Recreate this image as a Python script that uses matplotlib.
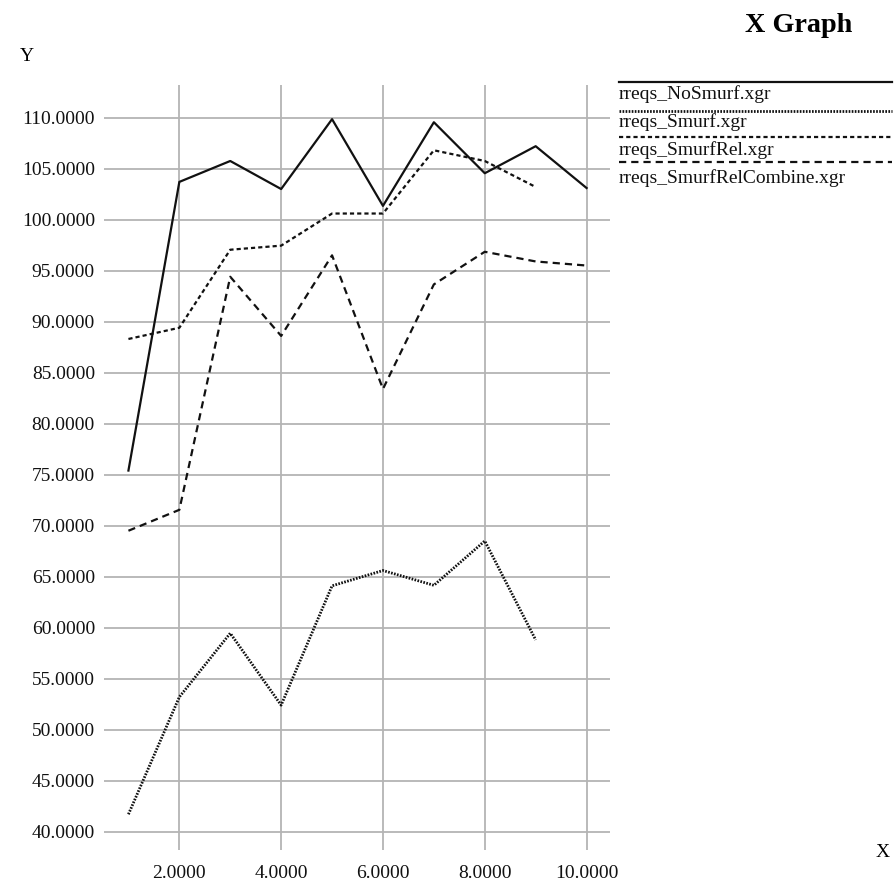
import matplotlib
matplotlib.use("Agg")
import matplotlib.pyplot as plt
from matplotlib.lines import Line2D

plt.rcParams['font.family'] = ['Liberation Serif', 'DejaVu Serif']
plt.rcParams['lines.scale_dashes'] = False

x_nosmurf = [1, 2, 3, 4, 5, 6, 7, 8, 9, 10]
y_nosmurf = [75.4, 103.7, 105.75, 103.0, 109.85, 101.35, 109.55, 104.55, 107.2, 103.1]

x_smurf = [1, 2, 3, 4, 5, 6, 7, 8, 9]
y_smurf = [41.7, 53.2, 59.45, 52.4, 64.1, 65.6, 64.15, 68.5, 58.8]

x_smurfrel = [1, 2, 3, 4, 5, 6, 7, 8, 9]
y_smurfrel = [88.3, 89.4, 97.05, 97.45, 100.6, 100.6, 106.8, 105.75, 103.2]

x_combine = [1, 2, 3, 4, 5, 6, 7, 8, 9, 10]
y_combine = [69.5, 71.55, 94.4, 88.6, 96.5, 83.4, 93.65, 96.85, 95.9, 95.5]

series_names = ["rreqs_NoSmurf.xgr", "rreqs_Smurf.xgr",
                "rreqs_SmurfRel.xgr", "rreqs_SmurfRelCombine.xgr"]

x_ticks = [2, 4, 6, 8, 10]
y_ticks = [40, 45, 50, 55, 60, 65, 70, 75, 80, 85, 90, 95, 100, 105, 110]

W, H = 896, 883
fig = plt.figure(figsize=(W / 100, H / 100), dpi=100)
fig.patch.set_facecolor('white')

left, right, top, bottom = 104, 610, 85, 850
ax = fig.add_axes([left / W, 1 - bottom / H, (right - left) / W, (bottom - top) / H])
ax.set_xlim(0.52, 10.46)
ax.set_ylim(38.2, 113.2)
for s in ax.spines.values():
    s.set_visible(False)
ax.set_xticks(x_ticks)
ax.set_yticks(y_ticks)
ax.set_xticklabels([f"{v:.4f}" for v in x_ticks])
ax.set_yticklabels([f"{v:.4f}" for v in y_ticks])
ax.tick_params(axis='both', length=0, labelsize=14, colors='#111111')
ax.tick_params(axis='y', pad=6.5)
ax.tick_params(axis='x', pad=10.5)
ax.grid(True, color='#b4b4b4', linewidth=1.3)
ax.set_axisbelow(True)

lw = 1.6
styles = [
    dict(linestyle='-', linewidth=lw),
    dict(linestyle=(0, (1.2, 1.0)), linewidth=2.0),
    dict(linestyle=(0, (3.0, 2.2)), linewidth=lw),
    dict(linestyle=(0, (5.2, 3.6)), linewidth=lw),
]
data = [(x_nosmurf, y_nosmurf), (x_smurf, y_smurf),
        (x_smurfrel, y_smurfrel), (x_combine, y_combine)]
for (xs, ys), st in zip(data, styles):
    ax.plot(xs, ys, color='#111111', clip_on=False, **st)

# Legend drawn manually
line_y = [82, 111, 137, 162]
text_base = [99, 127, 155, 183]
lx0, lx1 = 619, 892
for name, st, ly, ty in zip(series_names, styles, line_y, text_base):
    fig.add_artist(Line2D([lx0 / W, lx1 / W], [1 - ly / H, 1 - ly / H],
                          transform=fig.transFigure, color='#111111', **st))
    fig.text(lx0 / W, 1 - ty / H, name, fontsize=14, ha='left', va='baseline',
             color='#111111')

fig.text(799 / W, 1 - 32 / H, "X Graph", fontsize=20.3, fontweight='bold',
         ha='center', va='baseline')
fig.text(27 / W, 1 - 61 / H, "Y", fontsize=14, ha='center', va='baseline')
fig.text(883 / W, 1 - 857 / H, "X", fontsize=14, ha='center', va='baseline')

fig.savefig("out.png", dpi=100)
